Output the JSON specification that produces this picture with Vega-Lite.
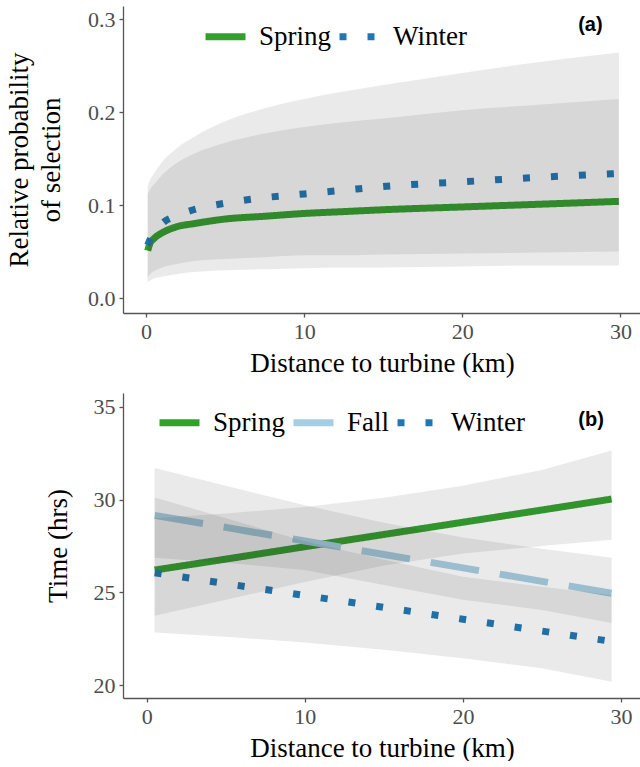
{
  "$schema": "https://vega.github.io/schema/vega-lite/v6.json",
  "padding": {"left": 5, "top": 6, "right": 0, "bottom": 0},
  "bounds": "flush",
  "spacing": 80,
  "datasets": {
    "a": [
      {"season": "Spring", "x": 0.1, "fit": 0.051, "lo": 0.022, "hi": 0.112},
      {"season": "Spring", "x": 0.25, "fit": 0.059, "lo": 0.026, "hi": 0.117},
      {"season": "Spring", "x": 0.5, "fit": 0.064, "lo": 0.029, "hi": 0.122},
      {"season": "Spring", "x": 1, "fit": 0.070, "lo": 0.033, "hi": 0.132},
      {"season": "Spring", "x": 2, "fit": 0.077, "lo": 0.037, "hi": 0.146},
      {"season": "Spring", "x": 3, "fit": 0.080, "lo": 0.040, "hi": 0.155},
      {"season": "Spring", "x": 5, "fit": 0.085, "lo": 0.042, "hi": 0.167},
      {"season": "Spring", "x": 7.5, "fit": 0.088, "lo": 0.044, "hi": 0.177},
      {"season": "Spring", "x": 10, "fit": 0.091, "lo": 0.046, "hi": 0.184},
      {"season": "Spring", "x": 12.5, "fit": 0.093, "lo": 0.046, "hi": 0.189},
      {"season": "Spring", "x": 15, "fit": 0.095, "lo": 0.047, "hi": 0.193},
      {"season": "Spring", "x": 20, "fit": 0.098, "lo": 0.048, "hi": 0.202},
      {"season": "Spring", "x": 25, "fit": 0.101, "lo": 0.049, "hi": 0.208},
      {"season": "Spring", "x": 29.9, "fit": 0.104, "lo": 0.050, "hi": 0.214},
      {"season": "Winter", "x": 0.1, "fit": 0.057, "lo": 0.017, "hi": 0.120},
      {"season": "Winter", "x": 0.25, "fit": 0.063, "lo": 0.019, "hi": 0.127},
      {"season": "Winter", "x": 0.5, "fit": 0.070, "lo": 0.021, "hi": 0.134},
      {"season": "Winter", "x": 1, "fit": 0.080, "lo": 0.023, "hi": 0.146},
      {"season": "Winter", "x": 2, "fit": 0.089, "lo": 0.026, "hi": 0.162},
      {"season": "Winter", "x": 3, "fit": 0.095, "lo": 0.028, "hi": 0.173},
      {"season": "Winter", "x": 5, "fit": 0.102, "lo": 0.030, "hi": 0.190},
      {"season": "Winter", "x": 7.5, "fit": 0.108, "lo": 0.031, "hi": 0.204},
      {"season": "Winter", "x": 10, "fit": 0.112, "lo": 0.032, "hi": 0.214},
      {"season": "Winter", "x": 12.5, "fit": 0.116, "lo": 0.033, "hi": 0.222},
      {"season": "Winter", "x": 15, "fit": 0.120, "lo": 0.033, "hi": 0.229},
      {"season": "Winter", "x": 20, "fit": 0.125, "lo": 0.034, "hi": 0.242},
      {"season": "Winter", "x": 25, "fit": 0.130, "lo": 0.035, "hi": 0.254},
      {"season": "Winter", "x": 29.9, "fit": 0.134, "lo": 0.035, "hi": 0.264}
    ],
    "b": [
      {"season": "Spring", "x": 0.5, "fit": 26.2, "lo": 23.73, "hi": 29.0},
      {"season": "Spring", "x": 5, "fit": 26.79, "lo": 24.6, "hi": 29.25},
      {"season": "Spring", "x": 10, "fit": 27.46, "lo": 25.55, "hi": 29.6},
      {"season": "Spring", "x": 15, "fit": 28.12, "lo": 26.45, "hi": 30.1},
      {"season": "Spring", "x": 20, "fit": 28.78, "lo": 27.1, "hi": 30.75},
      {"season": "Spring", "x": 25, "fit": 29.44, "lo": 27.5, "hi": 31.6},
      {"season": "Spring", "x": 29.4, "fit": 30.03, "lo": 27.84, "hi": 32.65},
      {"season": "Fall", "x": 0.5, "fit": 29.15, "lo": 26.86, "hi": 31.71},
      {"season": "Fall", "x": 5, "fit": 28.5, "lo": 26.6, "hi": 30.75},
      {"season": "Fall", "x": 10, "fit": 27.77, "lo": 26.2, "hi": 29.7},
      {"season": "Fall", "x": 15, "fit": 27.04, "lo": 25.4, "hi": 28.75},
      {"season": "Fall", "x": 20, "fit": 26.32, "lo": 24.6, "hi": 27.95},
      {"season": "Fall", "x": 25, "fit": 25.59, "lo": 24.05, "hi": 27.35},
      {"season": "Fall", "x": 29.4, "fit": 24.95, "lo": 23.35, "hi": 26.86},
      {"season": "Winter", "x": 0.5, "fit": 26.05, "lo": 22.83, "hi": 30.12},
      {"season": "Winter", "x": 5, "fit": 25.47, "lo": 22.6, "hi": 29.0},
      {"season": "Winter", "x": 10, "fit": 24.83, "lo": 22.3, "hi": 27.75},
      {"season": "Winter", "x": 15, "fit": 24.19, "lo": 21.9, "hi": 26.75},
      {"season": "Winter", "x": 20, "fit": 23.55, "lo": 21.45, "hi": 25.84},
      {"season": "Winter", "x": 25, "fit": 22.91, "lo": 20.9, "hi": 25.3},
      {"season": "Winter", "x": 29.4, "fit": 22.35, "lo": 20.18, "hi": 24.86}
    ],
    "labels": [{"panel": "a", "label": "(a)"}, {"panel": "b", "label": "(b)"}]
  },
  "vconcat": [
    {
      "width": 518,
      "height": 307,
      "layer": [
        {
          "data": {"name": "a"},
          "mark": {"type": "line", "strokeWidth": 7, "strokeCap": "butt", "interpolate": "monotone"},
          "encoding": {
            "x": {"field": "x", "type": "quantitative", "scale": {"domain": [-1.46, 31.3], "nice": false, "zero": false},
                  "axis": {"title": "Distance to turbine (km)", "values": [0, 10, 20, 30]}},
            "y": {"field": "fit", "type": "quantitative", "scale": {"domain": [-0.016, 0.314], "nice": false, "zero": false},
                  "axis": {"title": ["Relative probability", "of selection"], "values": [0, 0.1, 0.2, 0.3], "format": ".1f", "titlePadding": 22}},
            "color": {"field": "season", "type": "nominal", "title": null,
                      "scale": {"domain": ["Spring", "Winter"], "range": ["#33a02c", "#1f78b4"]},
                      "legend": {"orient": "none", "legendX": 79, "legendY": 7, "direction": "horizontal"}},
            "strokeDash": {"field": "season", "type": "nominal", "title": null,
                           "scale": {"domain": ["Spring", "Winter"], "range": [[1, 0], [7, 21]]},
                           "legend": {"orient": "none", "legendX": 79, "legendY": 7, "direction": "horizontal"}}
          }
        },
        {
          "data": {"name": "a"},
          "mark": {"type": "area", "fill": "#333333", "opacity": 0.1, "interpolate": "monotone"},
          "encoding": {
            "x": {"field": "x", "type": "quantitative"},
            "y": {"field": "lo", "type": "quantitative"},
            "y2": {"field": "hi"},
            "detail": {"field": "season", "type": "nominal"}
          }
        },
        {
          "data": {"name": "labels"},
          "transform": [{"filter": "datum.panel === 'a'"}],
          "mark": {"type": "text", "font": "Liberation Sans", "fontWeight": "bold", "fontSize": 20, "color": "black"},
          "encoding": {"text": {"field": "label"}, "x": {"datum": 28.1, "type": "quantitative"}, "y": {"datum": 0.2936, "type": "quantitative"}}
        }
      ],
      "resolve": {"scale": {"color": "independent", "strokeDash": "independent"}}
    },
    {
      "width": 518,
      "height": 305,
      "layer": [
        {
          "data": {"name": "b"},
          "mark": {"type": "line", "strokeWidth": 7, "strokeCap": "butt"},
          "encoding": {
            "x": {"field": "x", "type": "quantitative", "scale": {"domain": [-1.5, 31.26], "nice": false, "zero": false},
                  "axis": {"title": "Distance to turbine (km)", "values": [0, 10, 20, 30]}},
            "y": {"field": "fit", "type": "quantitative", "scale": {"domain": [19.3, 35.75], "nice": false, "zero": false},
                  "axis": {"title": "Time (hrs)", "values": [20, 25, 30, 35], "titlePadding": 21}},
            "color": {"field": "season", "type": "nominal", "title": null,
                      "scale": {"domain": ["Spring", "Fall", "Winter"], "range": ["#33a02c", "#a6cee3", "#1f78b4"]},
                      "legend": {"orient": "none", "legendX": 33, "legendY": 6, "direction": "horizontal"}},
            "strokeDash": {"field": "season", "type": "nominal", "title": null,
                           "scale": {"domain": ["Spring", "Fall", "Winter"], "range": [[1, 0], [49, 21], [7, 21]]},
                           "legend": {"orient": "none", "legendX": 33, "legendY": 6, "direction": "horizontal"}}
          }
        },
        {
          "data": {"name": "b"},
          "mark": {"type": "area", "fill": "#333333", "opacity": 0.1},
          "encoding": {
            "x": {"field": "x", "type": "quantitative"},
            "y": {"field": "lo", "type": "quantitative"},
            "y2": {"field": "hi"},
            "detail": {"field": "season", "type": "nominal"}
          }
        },
        {
          "data": {"name": "labels"},
          "transform": [{"filter": "datum.panel === 'b'"}],
          "mark": {"type": "text", "font": "Liberation Sans", "fontWeight": "bold", "fontSize": 20, "color": "black"},
          "encoding": {"text": {"field": "label"}, "x": {"datum": 28.1, "type": "quantitative"}, "y": {"datum": 34.27, "type": "quantitative"}}
        }
      ]
    }
  ],
  "resolve": {"scale": {"color": "independent", "strokeDash": "independent"}, "legend": {"color": "independent", "strokeDash": "independent"}},
  "config": {
    "view": {"stroke": null},
    "axis": {
      "grid": false,
      "domainColor": "#555555",
      "domainWidth": 1.3,
      "tickColor": "#555555",
      "tickWidth": 1.3,
      "tickSize": 4,
      "labelPadding": 4,
      "labelFont": "Liberation Serif",
      "labelFontSize": 22,
      "labelColor": "#4d4d4d",
      "titleFont": "Liberation Serif",
      "titleFontSize": 27,
      "titleFontWeight": "normal",
      "titleColor": "black",
      "titlePadding": 8,
      "titleLineHeight": 32
    },
    "legend": {
      "symbolType": "stroke",
      "symbolSize": 1600,
      "symbolStrokeWidth": 7,
      "labelFont": "Liberation Serif",
      "labelFontSize": 27,
      "labelColor": "black",
      "labelOffset": 10,
      "columnPadding": -7,
      "padding": 0
    }
  }
}
